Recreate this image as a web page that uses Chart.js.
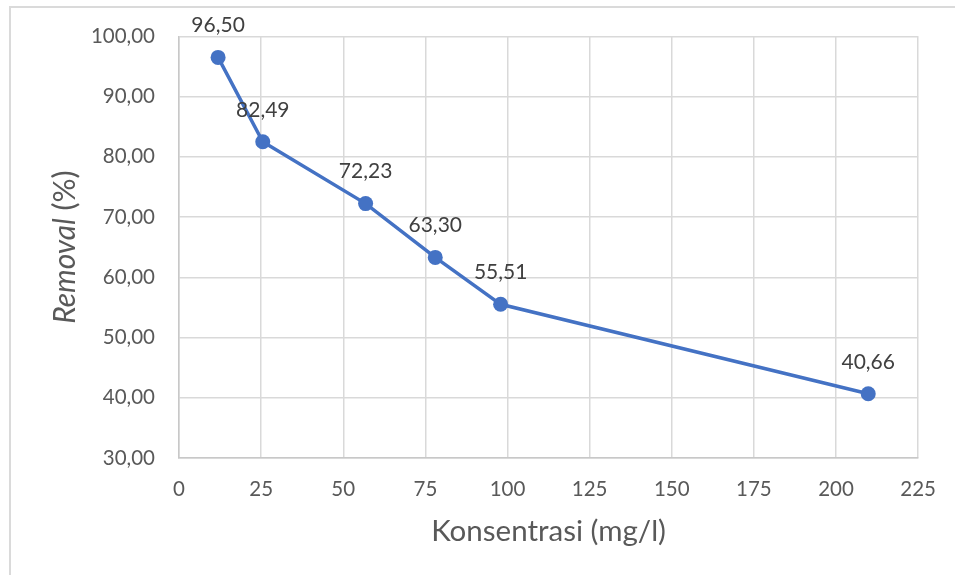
<!DOCTYPE html>
<html>
<head>
<meta charset="utf-8">
<script src="https://cdn.jsdelivr.net/npm/chart.js@4"></script>
<style>
  html, body { margin: 0; padding: 0; background: #fff; }
  #wrap { position: relative; width: 955px; height: 575px; }
  #frame {
    position: absolute; left: 9px; top: 6px; right: 0; bottom: 0;
    border-left: 2px solid #dadada; border-top: 2px solid #dadada;
    pointer-events: none;
  }
</style>
</head>
<body>
<div id="wrap">
  <canvas id="chart" width="955" height="575"></canvas>
  <div id="frame"></div>
</div>
<script>
// Konsentrasi (mg/l) vs removal (%)
const konsentrasi = [11.9, 25.5, 56.8, 78.0, 97.9, 209.8];
const removal = [96.50, 82.49, 72.23, 63.30, 55.51, 40.66];

const xTicks = [0, 25, 50, 75, 100, 125, 150, 175, 200, 225];
const yTicks = [30, 40, 50, 60, 70, 80, 90, 100];

const FONT = 'Lato, "Open Sans", sans-serif';
const tickColor = '#595959';
const gridColor = '#d9d9d9';
const lineColor = '#4472c4';

function fmt(v) {
  return v.toFixed(2).replace('.', ',');
}

// value labels above each point
const pointLabels = {
  id: 'pointLabels',
  afterDatasetsDraw(chart) {
    const ctx = chart.ctx;
    const meta = chart.getDatasetMeta(0);
    ctx.save();
    ctx.font = '21px ' + FONT;
    ctx.fillStyle = '#404040';
    ctx.textAlign = 'center';
    ctx.textBaseline = 'middle';
    meta.data.forEach((pt, i) => {
      ctx.fillText(fmt(removal[i]), pt.x, pt.y - 32);
    });
    ctx.restore();
  }
};

// y title: "Removal" in italic, " (%)" upright
const yTitle = {
  id: 'yTitle',
  afterDraw(chart) {
    const ctx = chart.ctx;
    const area = chart.chartArea;
    const a = 'Removal';
    const b = ' (%)';
    ctx.save();
    ctx.fillStyle = tickColor;
    ctx.textBaseline = 'middle';
    ctx.translate(65, (area.top + area.bottom) / 2);
    ctx.rotate(-Math.PI / 2);
    ctx.font = 'italic 30px ' + FONT;
    const wa = ctx.measureText(a).width;
    ctx.font = '30px ' + FONT;
    const wb = ctx.measureText(b).width;
    const start = -(wa + wb) / 2;
    ctx.font = 'italic 30px ' + FONT;
    ctx.textAlign = 'left';
    ctx.fillText(a, start, 0);
    ctx.font = '30px ' + FONT;
    ctx.fillText(b, start + wa, 0);
    ctx.restore();
  }
};

new Chart(document.getElementById('chart'), {
  type: 'line',
  data: {
    datasets: [{
      data: konsentrasi.map((x, i) => ({ x: x, y: removal[i] })),
      borderColor: lineColor,
      backgroundColor: lineColor,
      borderWidth: 3.5,
      pointRadius: 7.5,
      pointHoverRadius: 7.5,
      pointBackgroundColor: lineColor,
      pointBorderWidth: 0,
      tension: 0
    }]
  },
  options: {
    responsive: false,
    animation: false,
    layout: { padding: { left: 0, top: 36, right: 33, bottom: 0 } },
    plugins: {
      legend: { display: false },
      tooltip: { enabled: false }
    },
    scales: {
      x: {
        type: 'linear',
        min: xTicks[0],
        max: xTicks[xTicks.length - 1],
        afterBuildTicks: s => { s.ticks = xTicks.map(v => ({ value: v })); },
        afterFit: s => { s.height = 117; },
        grid: { color: gridColor, lineWidth: 1.5, drawTicks: false },
        border: { color: '#c8c8c8', width: 1.5 },
        ticks: {
          color: tickColor,
          font: { family: FONT, size: 20.5 },
          padding: 19,
          maxRotation: 0
        },
        title: {
          display: true,
          text: 'Konsentrasi (mg/l)',
          color: tickColor,
          font: { family: FONT, size: 29.5 },
          padding: { top: 0, bottom: 26 }
        }
      },
      y: {
        min: yTicks[0],
        max: yTicks[yTicks.length - 1],
        afterBuildTicks: s => { s.ticks = yTicks.map(v => ({ value: v })); },
        afterFit: s => { s.width = 179; },
        grid: { color: gridColor, lineWidth: 1.5, drawTicks: false },
        border: { color: '#c8c8c8', width: 1.5 },
        ticks: {
          color: tickColor,
          font: { family: FONT, size: 20.5 },
          padding: 24,
          callback: v => fmt(v)
        }
      }
    }
  },
  plugins: [pointLabels, yTitle]
});
</script>
</body>
</html>
